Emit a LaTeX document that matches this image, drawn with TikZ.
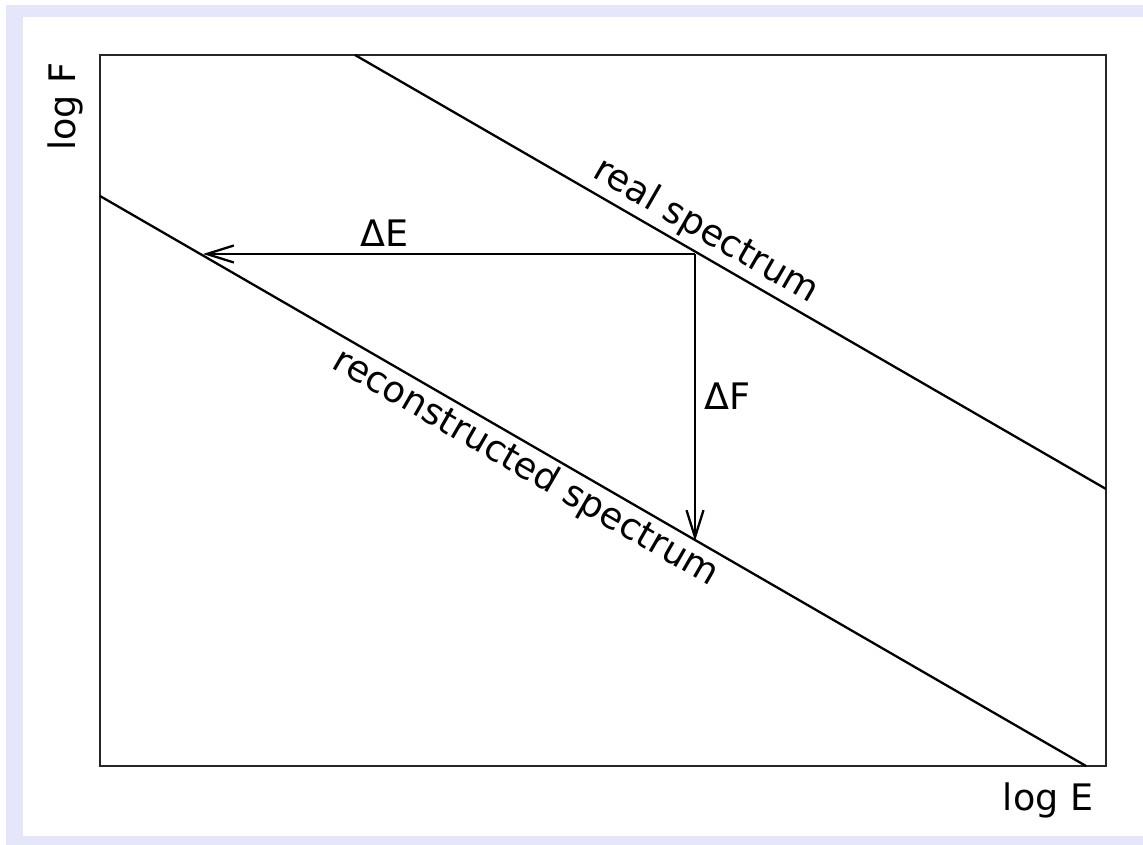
\documentclass[tikz,border=0pt]{standalone}
\usepackage{fontspec}
\setmainfont{DejaVu Sans}
\usetikzlibrary{arrows.meta}
\definecolor{framelav}{RGB}{230,230,250}
\begin{document}
\begin{tikzpicture}[x=1pt,y=-1pt,
  lbl/.style={font=\fontsize{36.5}{44}\selectfont, inner sep=0pt},
  curve/.style={line width=2.3pt},
  axisbox/.style={line width=2.2pt, draw=black!85},
  delta/.style={line width=2.3pt, -{Straight Barb[length=27pt,width=17pt,line width=2.3pt]}}]
\useasboundingbox (0,0) rectangle (1143,845);
\fill[white] (0,0) rectangle (1143,845);
% frame
\fill[framelav] (6,5) rectangle (1143,17);
\fill[framelav] (6,5) rectangle (23,845);
\fill[framelav] (6,836) rectangle (1143,845);
% plot box
\coordinate (bl) at (100,766);
\coordinate (tr) at (1106,55);
\draw[axisbox] (bl) rectangle (tr);
% spectra
\coordinate (r1) at (355,55);
\coordinate (r2) at (1106,489);
\coordinate (c1) at (100,196);
\coordinate (c2) at (1086,766);
\draw[curve] (r1) -- node[lbl, sloped, above, pos=0.452, inner sep=4pt] (rl) {real spectrum} (r2);
\draw[curve] (c1) -- node[lbl, sloped, below, pos=0.443, inner sep=4pt] (cl) {reconstructed spectrum} (c2);
% deltas
\coordinate (P) at (695,254);
\coordinate (Q) at (203,254);
\coordinate (R) at (695,541);
\draw[delta] (P) -- (Q);
\draw[delta] (P) -- (R);
\node[lbl, anchor=base] (dE) at (385,246) {ΔE};
\node[lbl, anchor=base west] (dF) at (704,409) {ΔF};
% axis labels
\node[lbl, anchor=base] (xl) at (1048,810) {log E};
\node[lbl, anchor=base, rotate=90] (yl) at (75,106.5) {log F};
\end{tikzpicture}
\end{document}
